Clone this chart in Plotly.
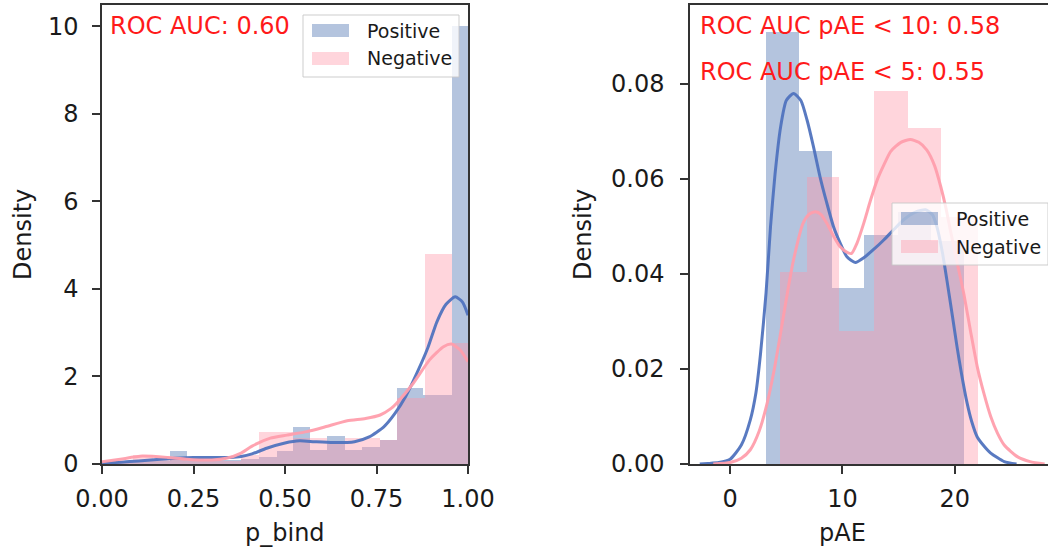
import numpy as np
import plotly.graph_objects as go

# ---------------- data ----------------
# Left panel: p_bind histograms (bin edges + density) and KDE curves
pos_pbind_edges = [0.0, 0.09, 0.186, 0.233, 0.28, 0.38, 0.43, 0.477, 0.523, 0.568,
                   0.614, 0.664, 0.71, 0.76, 0.805, 0.878, 0.955, 1.0]
pos_pbind_density = [0.05, 0.08, 0.30, 0.12, 0.10, 0.12, 0.15, 0.30, 0.84, 0.32,
                     0.64, 0.32, 0.40, 0.55, 1.74, 1.58, 10.0]
neg_pbind_edges = [0.0, 0.085, 0.14, 0.23, 0.33, 0.38, 0.43, 0.523, 0.568, 0.614,
                   0.664, 0.76, 0.805, 0.883, 0.955, 1.0]
neg_pbind_density = [0.08, 0.20, 0.12, 0.08, 0.08, 0.20, 0.74, 0.60, 0.60, 0.45,
                     0.60, 0.55, 1.50, 4.80, 2.76]

pos_pbind_kde_x = [0.0, 0.05, 0.10, 0.15, 0.20, 0.25, 0.30, 0.35, 0.38, 0.41, 0.45, 0.50,
                   0.54, 0.58, 0.63, 0.69, 0.73, 0.77, 0.80, 0.83, 0.86, 0.89, 0.915,
                   0.94, 0.965, 0.985, 1.0]
pos_pbind_kde_y = [0.02, 0.04, 0.07, 0.10, 0.13, 0.15, 0.15, 0.15, 0.17, 0.23, 0.36, 0.48,
                   0.53, 0.51, 0.49, 0.51, 0.62, 0.85, 1.15, 1.55, 2.07, 2.65, 3.25,
                   3.65, 3.82, 3.70, 3.40]
neg_pbind_kde_x = [0.0, 0.05, 0.11, 0.18, 0.23, 0.30, 0.34, 0.38, 0.41, 0.46, 0.505, 0.56,
                   0.61, 0.67, 0.72, 0.76, 0.79, 0.805, 0.85, 0.895, 0.933, 0.955, 0.978, 1.0]
neg_pbind_kde_y = [0.05, 0.11, 0.18, 0.15, 0.11, 0.09, 0.13, 0.25, 0.41, 0.59, 0.66, 0.74,
                   0.85, 0.99, 1.04, 1.12, 1.27, 1.39, 1.84, 2.38, 2.68, 2.74, 2.61, 2.34]

# Right panel: pAE histograms and KDE curves
pos_pae_edges = [3.21, 6.10, 9.11, 11.90, 14.91, 17.86, 20.80]
pos_pae_density = [0.0910, 0.0658, 0.0370, 0.0482, 0.0530, 0.0470]
neg_pae_edges = [4.40, 6.85, 9.67, 12.79, 15.80, 18.75, 22.03]
neg_pae_density = [0.0405, 0.0605, 0.0279, 0.0784, 0.0708, 0.0520]

pos_pae_kde_x = [-2.7, -2.0, -1.0, 0.0, 1.0, 1.8, 2.3, 2.7, 3.2, 3.6, 4.0, 4.5, 5.0, 5.65,
                 6.3, 6.85, 7.4, 8.0, 8.6, 9.2, 9.8, 10.4, 11.15, 11.9, 12.8, 13.7, 14.6,
                 15.45, 16.5, 17.4, 18.0, 18.4, 18.9, 19.3, 19.8, 20.2, 20.6, 21.1, 21.5,
                 22.0, 22.6, 23.2, 24.4, 25.5]
pos_pae_kde_y = [0.0, 0.0001, 0.0003, 0.001, 0.004, 0.0093, 0.015, 0.023, 0.036, 0.050,
                 0.061, 0.071, 0.0765, 0.078, 0.0765, 0.0724, 0.067, 0.0605, 0.055,
                 0.050, 0.0465, 0.0436, 0.0424, 0.0434, 0.0452, 0.0472, 0.0494, 0.0514,
                 0.0530, 0.0535, 0.0525, 0.050, 0.0445, 0.0387, 0.031, 0.0247, 0.019,
                 0.0128, 0.009, 0.0057, 0.0038, 0.0023, 0.0005, 0.0]
neg_pae_kde_x = [-1.5, 0.0, 1.0, 1.8, 2.6, 3.3, 3.9, 4.5, 5.1, 5.65, 6.5, 7.0, 7.6, 8.1,
                 8.6, 9.2, 9.8, 10.3, 10.8, 11.3, 11.9, 12.5, 13.1, 13.7, 14.3, 15.2,
                 16.05, 16.8, 17.5, 18.2, 18.75, 19.2, 19.6, 20.2, 20.8, 21.4, 22.0, 22.6,
                 23.2, 23.8, 24.4, 25.6, 26.7, 28.0]
neg_pae_kde_y = [0.0, 0.0003, 0.0012, 0.003, 0.007, 0.0128, 0.0195, 0.0276, 0.036, 0.043,
                 0.0507, 0.0525, 0.0531, 0.0525, 0.0507, 0.048, 0.0457, 0.0447, 0.0443,
                 0.0465, 0.0507, 0.0555, 0.0598, 0.063, 0.0658, 0.0677, 0.0683, 0.0677,
                 0.0661, 0.0628, 0.0584, 0.054, 0.0493, 0.0425, 0.0359, 0.028, 0.0205,
                 0.0148, 0.010, 0.0065, 0.004, 0.0015, 0.0005, 0.0]

series_labels = ["Positive", "Negative"]
pbind_ticks = [0.0, 0.25, 0.5, 0.75, 1.0]
pbind_dens_ticks = [0, 2, 4, 6, 8, 10]
pae_ticks = [0, 10, 20]
pae_dens_ticks = [0.0, 0.02, 0.04, 0.06, 0.08]
auc_left = "ROC AUC: 0.60"
auc_right = ["ROC AUC pAE < 10: 0.58", "ROC AUC pAE < 5: 0.55"]
x_titles = ["p_bind", "pAE"]
y_title = "Density"

# ---------------- style ----------------
FONT = "DejaVu Sans"
BLUE = "76,114,176"
PINK = "255,150,168"
BAR_BLUE = f"rgba({BLUE},0.42)"
BAR_PINK = f"rgba({PINK},0.40)"
LINE_BLUE = "rgba(80,115,190,0.95)"
LINE_PINK = "rgba(255,158,172,0.95)"
AXC = "#333333"
TXT = "#1a1a1a"


def bar_trace(edges, dens, color, xa, ya):
    e = np.asarray(edges, dtype=float)
    return go.Bar(x=(e[:-1] + e[1:]) / 2, y=dens, width=np.diff(e),
                  marker=dict(color=color, line=dict(width=0)),
                  xaxis=xa, yaxis=ya, showlegend=False, hoverinfo="skip")


def kde_trace(x, y, color, xa, ya):
    return go.Scatter(x=x, y=y, mode="lines",
                      line=dict(color=color, width=3, shape="spline", smoothing=0.6),
                      xaxis=xa, yaxis=ya, showlegend=False, hoverinfo="skip")


fig = go.Figure()
fig.add_trace(bar_trace(pos_pbind_edges, pos_pbind_density, BAR_BLUE, "x", "y"))
fig.add_trace(kde_trace(pos_pbind_kde_x, pos_pbind_kde_y, LINE_BLUE, "x", "y"))
fig.add_trace(bar_trace(neg_pbind_edges, neg_pbind_density, BAR_PINK, "x", "y"))
fig.add_trace(kde_trace(neg_pbind_kde_x, neg_pbind_kde_y, LINE_PINK, "x", "y"))

fig.add_trace(bar_trace(pos_pae_edges, pos_pae_density, BAR_BLUE, "x2", "y2"))
fig.add_trace(kde_trace(pos_pae_kde_x, pos_pae_kde_y, LINE_BLUE, "x2", "y2"))
fig.add_trace(bar_trace(neg_pae_edges, neg_pae_density, BAR_PINK, "x2", "y2"))
fig.add_trace(kde_trace(neg_pae_kde_x, neg_pae_kde_y, LINE_PINK, "x2", "y2"))

W, H = 1048, 553
ydom = [1 - 464 / H, 1 - 5 / H]

axis_common = dict(showline=True, linecolor=AXC, linewidth=1.5, ticks="outside",
                   ticklen=8, tickwidth=1.5, tickcolor=AXC, showgrid=False,
                   zeroline=False, automargin=False,
                   tickfont=dict(family=FONT, size=24, color=TXT))

fig.update_layout(
    width=W, height=H, margin=dict(l=0, r=0, t=0, b=0),
    paper_bgcolor="white", plot_bgcolor="white", barmode="overlay", bargap=0,
    showlegend=False,
    xaxis=dict(domain=[102 / W, 468 / W], range=[0, 1], tickvals=pbind_ticks,
               tickformat=".2f", mirror=True, anchor="y", ticklabelstandoff=4,
               **axis_common),
    yaxis=dict(domain=ydom, range=[0, 10.49], tickvals=pbind_dens_ticks, mirror=True,
               anchor="x", ticklabelstandoff=9, **axis_common),
    xaxis2=dict(domain=[690 / W, 1.0], range=[-3.57, 28.3], tickvals=pae_ticks,
                mirror=True, anchor="y2", ticklabelstandoff=4, **axis_common),
    yaxis2=dict(domain=ydom, range=[0, 0.0966], tickvals=pae_dens_ticks,
                tickformat=".2f", mirror=False, anchor="x2", ticklabelstandoff=11,
                **axis_common),
)

# Axis titles
for t, cx in zip(x_titles, [285, 842]):
    fig.add_annotation(text=t, xref="paper", yref="paper", x=cx / W, y=1 - 533 / H,
                       xanchor="center", yanchor="middle", showarrow=False,
                       font=dict(family=FONT, size=24, color=TXT))
for cx in [23, 583]:
    fig.add_annotation(text=y_title, xref="paper", yref="paper", x=cx / W,
                       y=1 - 235 / H, xanchor="center", yanchor="middle", textangle=-90,
                       showarrow=False, font=dict(family=FONT, size=24, color=TXT))

# ROC AUC annotations
fig.add_annotation(text=auc_left, xref="paper", yref="paper", x=108 / W, y=1 - 26 / H,
                   xanchor="left", yanchor="middle", showarrow=False,
                   font=dict(family=FONT, size=24, color="#ff1a1a"))
for i, t in enumerate(auc_right):
    fig.add_annotation(text=t, xref="paper", yref="paper", x=698 / W,
                       y=1 - (26 + 46 * i) / H, xanchor="left", yanchor="middle",
                       showarrow=False, font=dict(family=FONT, size=24, color="#ff1a1a"))


# Legends drawn as boxes (matplotlib-style wide patches)
def add_legend(x0, y0):
    w, h = 156, 62
    fig.add_shape(type="rect", xref="paper", yref="paper",
                  x0=x0 / W, x1=(x0 + w) / W, y0=1 - y0 / H, y1=1 - (y0 + h) / H,
                  fillcolor="rgba(255,255,255,0.8)",
                  line=dict(color="rgba(200,200,200,0.9)", width=1))
    for i, (lab, col) in enumerate(zip(series_labels, [BAR_BLUE, BAR_PINK])):
        cy = y0 + 15.5 + 28 * i
        fig.add_shape(type="rect", xref="paper", yref="paper",
                      x0=(x0 + 9) / W, x1=(x0 + 46) / W,
                      y0=1 - (cy - 6.5) / H, y1=1 - (cy + 6.5) / H,
                      fillcolor=col, line=dict(width=0))
        fig.add_annotation(text=lab, xref="paper", yref="paper", x=(x0 + 62) / W,
                           y=1 - cy / H, xanchor="left", yanchor="middle", showarrow=False,
                           font=dict(family=FONT, size=19, color=TXT))


add_legend(303, 15)
add_legend(892, 203)

fig.write_html("out.html")
